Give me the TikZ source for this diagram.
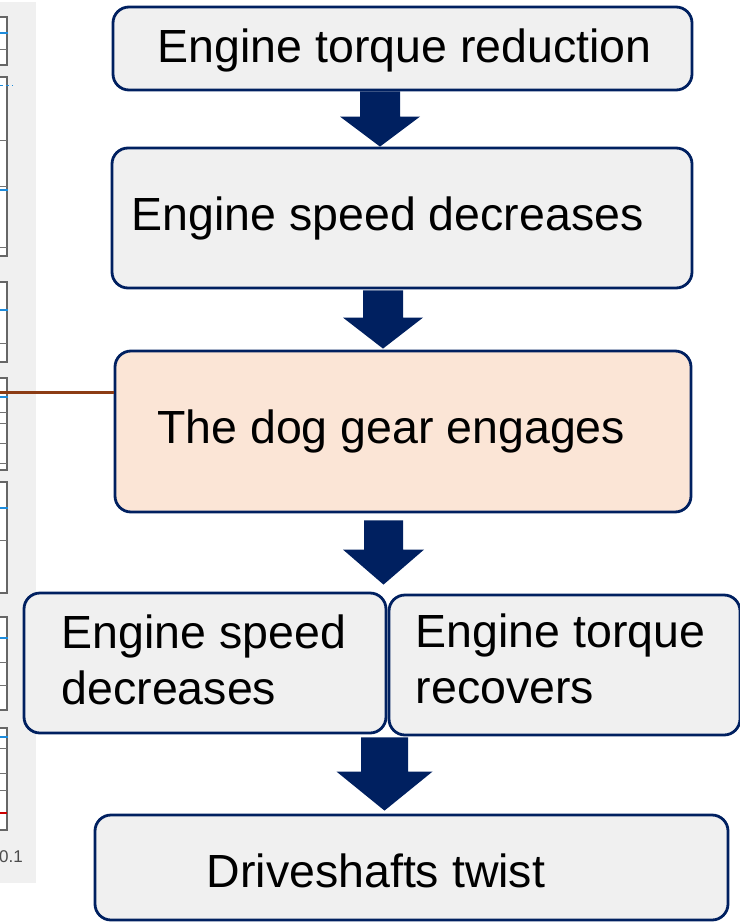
\documentclass[tikz,border=0pt]{standalone}
\usepackage{fontspec}
\setmainfont{Liberation Sans}
\usepackage{xcolor}
\usetikzlibrary{calc}

\definecolor{navy}{RGB}{0,32,96}
\definecolor{boxgray}{RGB}{240,240,240}
\definecolor{peach}{RGB}{251,229,214}
\definecolor{rust}{RGB}{140,60,20}
\definecolor{plotblue}{RGB}{30,140,220}
\definecolor{stripgray}{RGB}{240,240,240}

\tikzset{
  box/.style={draw=navy,line width=2.8bp,rounded corners=16bp,fill=boxgray,inner sep=0pt},
  lbl/.style={inner sep=0pt,align=left,font=\fontsize{46.5bp}{56bp}\selectfont},
  panel/.style={draw=black!60,line width=1.2bp,fill=white},
  grid/.style={draw=black!55,line width=0.9bp},
}

% block arrow from one box down to the next
\newcommand{\flowarrow}[7]{%
  \fill[navy] let \p1=(#1.south), \p2=(#2.north) in
    ({#3bp-#4bp},{\y1-#7bp}) -- ({#3bp-#4bp},{\y2+#7bp+#6bp}) -- ({#3bp-#5bp},{\y2+#7bp+#6bp})
    -- ({#3bp},{\y2+#7bp}) -- ({#3bp+#5bp},{\y2+#7bp+#6bp}) -- ({#3bp+#4bp},{\y2+#7bp+#6bp})
    -- ({#3bp+#4bp},{\y1-#7bp}) -- cycle;}

\begin{document}
\begin{tikzpicture}
    \useasboundingbox (0,0) rectangle (740bp,-922bp);

    % piece of the plot on the left
    \fill[stripgray] (0,-2bp) rectangle (36bp,-883bp);
    \foreach \ptop/\pbot in {17/65,77/256,282/362,378/470,482/593,617/710,728/830}
        \draw[panel] (-10bp,-\ptop*1bp) rectangle (7bp,-\pbot*1bp);
    \foreach \gy in {49,140,186,247,343,412,423,443,463,540,662,685,748,773,790}
        \draw[grid] (0,-\gy*1bp) -- (7bp,-\gy*1bp);
    \foreach \by in {33,190,310,397,508,638,737}
        \draw[plotblue,line width=2bp] (0,-\by*1bp) -- (8bp,-\by*1bp);
    \draw[plotblue,line width=0.8bp,dashed] (0,-85bp) -- (12bp,-85bp);
    \draw[red!80!black,line width=1.2bp] (0,-813bp) -- (7bp,-813bp);
    \node (tick) at (11bp,-857bp)[text=black!70,inner sep=0pt] {\fontsize{17bp}{17bp}\selectfont 0.1};

    % boxes
    \node (b1) at (402.5bp,-48.5bp)[box,minimum width=579bp,minimum height=83bp] {};
    \node (b2) at (402bp,-218bp)[box,minimum width=580bp,minimum height=140bp] {};
    \node (b3) at (403bp,-431.5bp)[box,fill=peach,minimum width=576bp,minimum height=161bp] {};
    \node (b4) at (205bp,-663bp)[box,minimum width=362bp,minimum height=140bp] {};
    \node (b5) at (564.5bp,-665bp)[box,minimum width=351bp,minimum height=140bp] {};
    \node (b6) at (411.5bp,-867.5bp)[box,minimum width=633bp,minimum height=105bp] {};

    \node (t1) at (157.5bp,-62bp)[lbl,anchor=base west] {Engine torque reduction};
    \node (t2) at (131.5bp,-230bp)[lbl,anchor=base west] {Engine speed decreases};
    \node (t3) at (157bp,-443bp)[lbl,anchor=base west] {The dog gear engages};
    \node (t4) at (61.5bp,-660bp)[lbl,anchor=west] {Engine speed\\decreases};
    \node (t5) at (415.5bp,-659bp)[lbl,anchor=west] {Engine torque\\recovers};
    \node (t6) at (206.5bp,-887bp)[lbl,anchor=base west] {Driveshafts twist};

    % arrows
    \flowarrow{b1}{b2}{380}{20}{40}{30}{0}
    \flowarrow{b2}{b3}{383}{20}{40}{31}{1}
    \flowarrow{b3}{b4}{383.5}{19.5}{40.5}{35}{7}
    \flowarrow{b4}{b6}{384.5}{23.5}{48}{39}{3}

    \coordinate (src) at (0,-392bp);
    \draw[rust,line width=3bp] (src) -- (src -| b3.west);
\end{tikzpicture}
\end{document}
